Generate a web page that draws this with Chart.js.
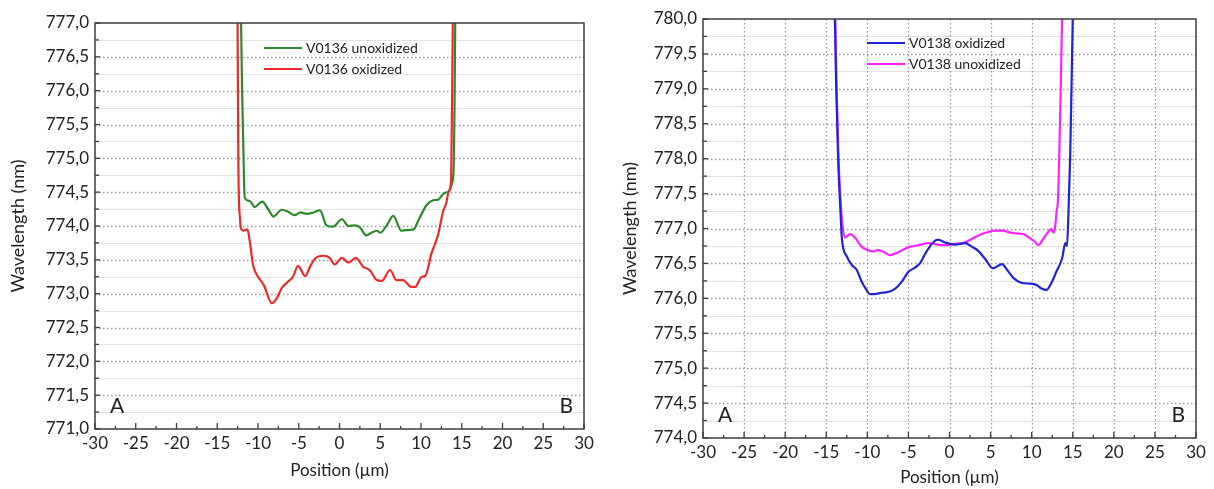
<!DOCTYPE html>
<html>
<head>
<meta charset="utf-8">
<script src="https://cdn.jsdelivr.net/npm/chart.js@4"></script>
<style>
  body { margin: 0; background: #fff; }
  .wrap { position: absolute; top: 0; width: 607px; height: 489px; }
</style>
</head>
<body>
<div class="wrap" style="left:0"><canvas id="left" width="607" height="489"></canvas></div>
<div class="wrap" style="left:607px"><canvas id="right" width="607" height="489"></canvas></div>
<script>
// x positions in µm, wavelengths in nm
const xTickStep = 5;

// V0136 (left panel)
const v136UnoxX = [-12.2, -11.95, -11.7, -11.6, -11.0, -10.4, -9.5, -8.7, -8.1, -7.1, -6.3, -5.5, -4.8, -4.0, -3.2, -2.4, -1.6, -0.8, 0.3, 1.1, 1.9, 2.5, 3.3, 3.9, 4.6, 5.0, 5.8, 6.6, 7.6, 8.2, 9.1, 9.7, 10.7, 11.5, 12.1, 12.9, 13.4, 13.8, 14.0, 14.1, 14.2, 14.3];
const v136UnoxY = [778.0, 776.0, 774.6, 774.41, 774.37, 774.28, 774.36, 774.24, 774.14, 774.24, 774.21, 774.16, 774.20, 774.18, 774.20, 774.23, 774.01, 773.99, 774.10, 774.00, 774.01, 773.98, 773.86, 773.90, 773.93, 773.90, 774.01, 774.15, 773.93, 773.94, 773.95, 774.09, 774.31, 774.38, 774.39, 774.49, 774.51, 774.63, 774.83, 775.6, 777.0, 778.0];

const v136OxX = [-12.55, -12.4, -12.2, -12.1, -11.8, -11.3, -11.0, -10.6, -10.0, -9.3, -8.3, -7.7, -7.1, -6.3, -5.7, -5.1, -4.2, -3.6, -3.0, -2.0, -1.2, -0.6, 0.3, 1.1, 2.0, 2.9, 3.7, 4.6, 5.2, 6.2, 7.0, 7.8, 8.8, 9.3, 10.1, 10.5, 11.3, 12.1, 12.7, 13.1, 13.4, 13.7, 13.9, 14.0];
const v136OxY = [778.0, 774.8, 774.1, 773.97, 773.93, 773.95, 773.77, 773.42, 773.25, 773.13, 772.86, 772.93, 773.08, 773.18, 773.25, 773.41, 773.26, 773.40, 773.52, 773.56, 773.53, 773.43, 773.53, 773.46, 773.53, 773.40, 773.35, 773.20, 773.19, 773.35, 773.20, 773.20, 773.10, 773.10, 773.25, 773.26, 773.60, 773.87, 774.21, 774.34, 774.51, 774.68, 777.0, 778.0];

// V0138 (right panel)
const v138OxX = [-14.0, -13.95, -13.55, -13.25, -13.1, -12.5, -11.9, -11.3, -10.7, -10.1, -9.7, -9.1, -8.3, -7.5, -6.6, -5.8, -5.0, -4.2, -3.6, -2.8, -2.0, -1.4, -0.55, 0.67, 1.9, 2.7, 3.5, 4.3, 5.3, 6.4, 7.0, 7.8, 8.8, 9.8, 10.6, 11.2, 11.8, 12.4, 13.0, 13.7, 14.1, 14.3, 14.5, 14.7, 15.0, 15.1];
const v138OxY = [780.5, 780.0, 778.0, 777.2, 776.86, 776.60, 776.48, 776.41, 776.24, 776.12, 776.06, 776.06, 776.08, 776.09, 776.14, 776.24, 776.38, 776.44, 776.50, 776.67, 776.80, 776.84, 776.80, 776.77, 776.79, 776.74, 776.68, 776.57, 776.43, 776.49, 776.41, 776.29, 776.22, 776.21, 776.19, 776.14, 776.12, 776.22, 776.38, 776.57, 776.79, 776.75, 777.3, 778.1, 780.0, 780.5];

const v138UnoxX = [-13.95, -13.9, -13.5, -13.2, -13.0, -12.7, -12.1, -11.5, -10.7, -9.9, -9.3, -8.7, -8.1, -7.3, -6.4, -5.6, -4.8, -3.8, -2.6, -1.4, -0.55, 0.67, 1.9, 2.7, 3.7, 4.7, 5.5, 6.5, 7.4, 8.2, 9.0, 9.8, 10.4, 10.8, 11.4, 12.0, 12.35, 12.7, 12.9, 13.05, 13.2, 13.5, 13.7, 13.75];
const v138UnoxY = [780.5, 780.0, 778.0, 777.3, 777.03, 776.87, 776.92, 776.87, 776.74, 776.69, 776.67, 776.69, 776.67, 776.62, 776.65, 776.70, 776.74, 776.76, 776.79, 776.77, 776.76, 776.78, 776.80, 776.85, 776.91, 776.95, 776.97, 776.97, 776.94, 776.93, 776.92, 776.86, 776.81, 776.76, 776.85, 776.95, 776.99, 776.94, 777.07, 777.26, 777.41, 778.8, 780.0, 780.5];

const FONT = 'Lato, "Open Sans", sans-serif';
const TXT = '#222222';

function pts(xs, ys) {
  return xs.map((x, i) => ({ x: x, y: ys[i] }));
}

function comma(v) {
  return v.toFixed(1).replace('.', ',');
}

// gridlines, inward ticks, frame, A/B markers and the in-plot legend
const decor = {
  id: 'decor',
  beforeDatasetsDraw(chart, args, o) {
    const { ctx, chartArea: a, scales: { x, y } } = chart;
    ctx.save();
    // light minor lines between labelled values
    ctx.strokeStyle = '#e2e2e2';
    ctx.lineWidth = 1;
    const yt = y.ticks.map(t => t.value);
    for (let i = 0; i < yt.length - 1; i++) {
      const py = Math.round(y.getPixelForValue((yt[i] + yt[i + 1]) / 2)) + 0.5;
      ctx.beginPath(); ctx.moveTo(a.left, py); ctx.lineTo(a.right, py); ctx.stroke();
    }
    // dotted major lines
    ctx.strokeStyle = '#999999';
    ctx.lineWidth = 1.3;
    ctx.setLineDash([1.5, 2.5]);
    yt.forEach(v => {
      if (v === y.min || v === y.max) return;
      const py = Math.round(y.getPixelForValue(v)) + 0.5;
      ctx.beginPath(); ctx.moveTo(a.left, py); ctx.lineTo(a.right, py); ctx.stroke();
    });
    if (o.vgrid) {
      x.ticks.forEach(t => {
        if (t.value === x.min || t.value === x.max) return;
        const px = Math.round(x.getPixelForValue(t.value)) + 0.5;
        ctx.beginPath(); ctx.moveTo(px, a.top); ctx.lineTo(px, a.bottom); ctx.stroke();
      });
    }
    ctx.restore();
  },
  afterDatasetsDraw(chart, args, o) {
    const { ctx, chartArea: a, scales: { x, y } } = chart;
    ctx.save();
    ctx.strokeStyle = '#3c3c3c';
    ctx.lineWidth = 1.5;
    ctx.strokeRect(a.left, a.top, a.right - a.left, a.bottom - a.top);
    ctx.lineWidth = 1.3;
    // inward ticks on the left axis
    const yt = y.ticks.map(t => t.value);
    yt.forEach((v, i) => {
      const py = y.getPixelForValue(v);
      ctx.beginPath(); ctx.moveTo(a.left, py); ctx.lineTo(a.left + 5, py); ctx.stroke();
      if (i < yt.length - 1) {
        const pm = y.getPixelForValue((v + yt[i + 1]) / 2);
        ctx.beginPath(); ctx.moveTo(a.left, pm); ctx.lineTo(a.left + 4, pm); ctx.stroke();
      }
    });
    // inward ticks on the bottom axis
    const xt = x.ticks.map(t => t.value);
    xt.forEach((v, i) => {
      const px = x.getPixelForValue(v);
      ctx.beginPath(); ctx.moveTo(px, a.bottom); ctx.lineTo(px, a.bottom - 6); ctx.stroke();
      if (i < xt.length - 1) {
        const pm = x.getPixelForValue(v + xTickStep / 2);
        ctx.beginPath(); ctx.moveTo(pm, a.bottom); ctx.lineTo(pm, a.bottom - 3); ctx.stroke();
      }
    });
    // A / B markers
    ctx.fillStyle = TXT;
    ctx.font = '21px ' + FONT;
    ctx.textBaseline = 'alphabetic';
    ctx.textAlign = 'left';
    ctx.fillText('A', a.left + 15, a.bottom - 16);
    ctx.textAlign = 'right';
    ctx.fillText('B', a.right - 11, a.bottom - 16);
    // legend
    ctx.font = '14px ' + FONT;
    ctx.textAlign = 'left';
    ctx.textBaseline = 'middle';
    o.order.forEach((di, k) => {
      const ds = chart.data.datasets[di];
      const ly = a.top + o.ly + k * 21;
      ctx.strokeStyle = ds.borderColor;
      ctx.lineWidth = 2;
      ctx.beginPath(); ctx.moveTo(a.left + o.lx, ly); ctx.lineTo(a.left + o.lx + 38, ly); ctx.stroke();
      ctx.fillStyle = TXT;
      ctx.fillText(ds.label, a.left + o.lx + 42, ly);
    });
    ctx.restore();
  }
};

function makeChart(id, datasets, yMin, yMax, lay, deco) {
  new Chart(document.getElementById(id), {
    type: 'line',
    data: { datasets: datasets },
    plugins: [decor],
    options: {
      responsive: false,
      animation: false,
      devicePixelRatio: 1,
      parsing: false,
      layout: { padding: { left: 0, right: lay.right, top: lay.top, bottom: 0 } },
      elements: {
        point: { radius: 0 },
        line: { borderWidth: 2.2, cubicInterpolationMode: 'monotone' }
      },
      plugins: {
        legend: { display: false },
        tooltip: { enabled: false },
        decor: deco
      },
      scales: {
        x: {
          type: 'linear',
          min: -30, max: 30,
          afterFit: s => { s.height = lay.xh; },
          grid: { display: false, drawTicks: false },
          border: { display: false },
          ticks: { stepSize: xTickStep, padding: 4, color: TXT, font: { family: FONT, size: 17 }, maxRotation: 0 },
          title: { display: true, text: 'Position (µm)', color: TXT, font: { family: FONT, size: 17 }, padding: { top: 0, bottom: lay.xtb } }
        },
        y: {
          min: yMin, max: yMax,
          afterFit: s => { s.width = lay.yw; },
          grid: { display: false, drawTicks: false },
          border: { display: false },
          ticks: { stepSize: 0.5, padding: 6, color: TXT, font: { family: FONT, size: 17 }, callback: v => comma(v) },
          title: { display: true, text: 'Wavelength (nm)', color: TXT, font: { family: FONT, size: 18 }, padding: { top: lay.ytp, bottom: 0 } }
        }
      }
    }
  });
}

makeChart('left', [
  { label: 'V0136 oxidized', data: pts(v136OxX, v136OxY), borderColor: '#ec2a2a' },
  { label: 'V0136 unoxidized', data: pts(v136UnoxX, v136UnoxY), borderColor: '#2c8a2c' }
], 771, 777, { right: 23, top: 23, xh: 60, yw: 95, xtb: 8, ytp: 7 }, { vgrid: false, order: [1, 0], lx: 169, ly: 25 });

makeChart('right', [
  { label: 'V0138 oxidized', data: pts(v138OxX, v138OxY), borderColor: '#2222d6' },
  { label: 'V0138 unoxidized', data: pts(v138UnoxX, v138UnoxY), borderColor: '#ff22ff' }
], 774, 780, { right: 18, top: 19, xh: 51, yw: 96, xtb: 1, ytp: 12 }, { vgrid: true, order: [0, 1], lx: 164, ly: 24 });
</script>
</body>
</html>
